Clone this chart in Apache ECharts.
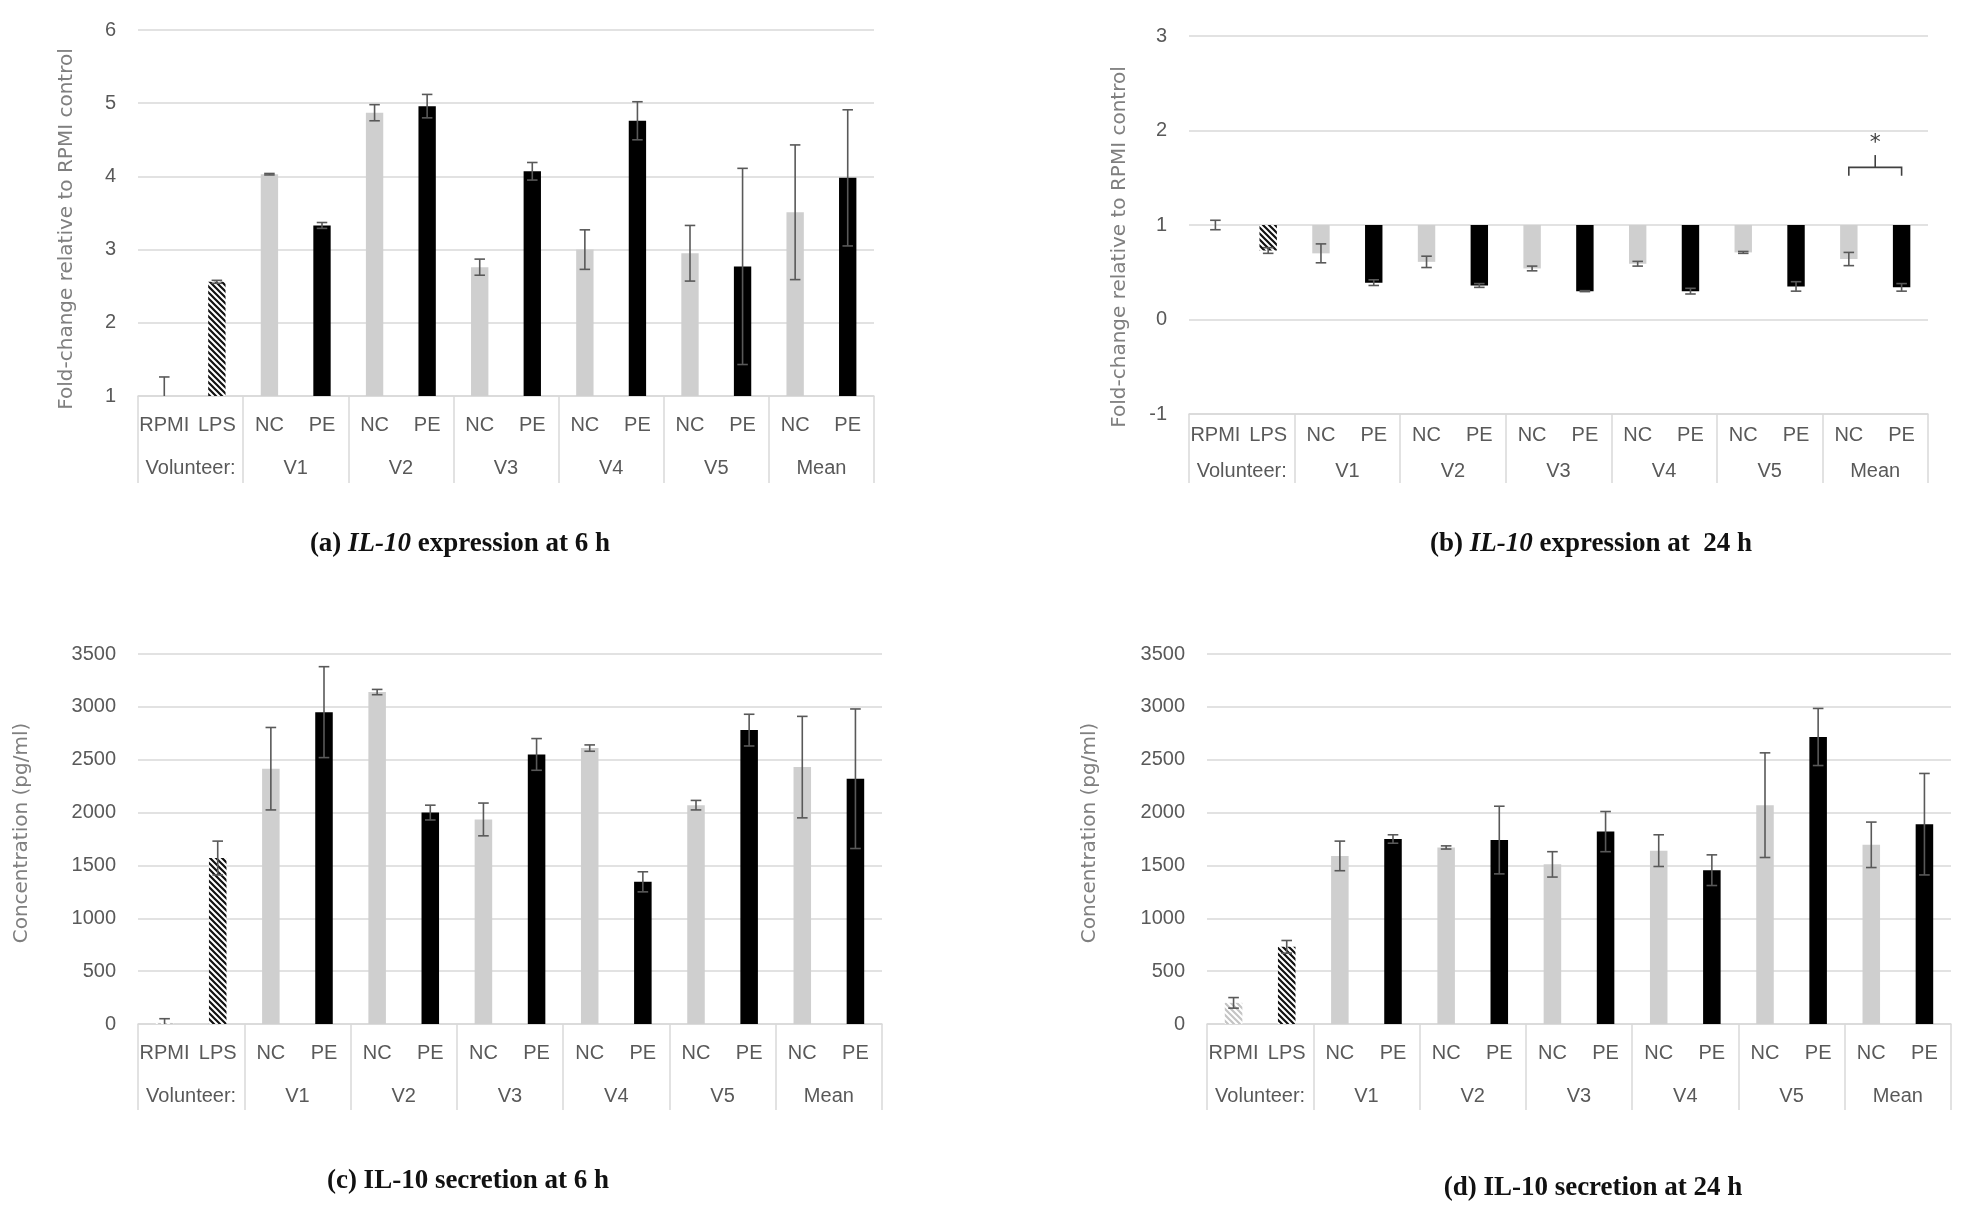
<!DOCTYPE html>
<html><head><meta charset="utf-8">
<script src="https://cdn.jsdelivr.net/npm/echarts/dist/echarts.min.js"></script>
<style>html,body{margin:0;padding:0;background:#fff}#c{width:1967px;height:1208px}</style>
</head><body><div id="c"></div>
<script>
// ---------- data ----------
const barLabels = ['RPMI','LPS','NC','PE','NC','PE','NC','PE','NC','PE','NC','PE','NC','PE'];
const groupLabels = ['Volunteer:','V1','V2','V3','V4','V5','Mean'];

// (a) IL-10 expression at 6 h (fold-change)
const expr6h   = [1.00, 2.56, 4.03, 3.33, 4.87, 4.96, 2.76, 4.07, 3.00, 4.76, 2.95, 2.77, 3.51, 3.98];
const expr6hSd = [0.26, 0.02, 0.01, 0.04, 0.11, 0.16, 0.11, 0.12, 0.27, 0.26, 0.38, 1.34, 0.92, 0.93];
// (b) IL-10 expression at 24 h (fold-change)
const expr24h   = [1.00, 0.73, 0.70, 0.39, 0.61, 0.36, 0.54, 0.30, 0.59, 0.30, 0.71, 0.35, 0.64, 0.34];
const expr24hSd = [0.05, 0.03, 0.10, 0.03, 0.06, 0.02, 0.025, 0.005, 0.025, 0.03, 0.01, 0.05, 0.07, 0.04];
// (c) IL-10 secretion at 6 h (pg/ml)
const sec6h   = [10, 1570, 2415, 2950, 3140, 2000, 1935, 2550, 2610, 1345, 2070, 2780, 2430, 2320];
const sec6hSd = [40, 160, 390, 430, 25, 70, 155, 150, 30, 95, 45, 150, 480, 660];
// (d) IL-10 secretion at 24 h (pg/ml)
const sec24h   = [200, 730, 1590, 1750, 1670, 1740, 1510, 1820, 1640, 1455, 2070, 2715, 1695, 1890];
const sec24hSd = [50, 60, 140, 40, 15, 320, 120, 190, 150, 145, 495, 270, 215, 480];

// significance bracket in (b): [fromIndex, toIndex, legBottom, barLevel, stemTop, starLevel]
const bracketB = [12, 13, 1.52, 1.61, 1.74, 1.87];

// ---------- styles ----------
function hatch(line) {
  const s = 6;
  const c = document.createElement('canvas'); c.width = s; c.height = s;
  const g = c.getContext('2d');
  g.fillStyle = '#ffffff'; g.fillRect(0, 0, s, s);
  g.strokeStyle = line; g.lineWidth = 2.2;
  g.beginPath();
  g.moveTo(-1, -1); g.lineTo(s + 1, s + 1);
  g.moveTo(-1, s - 1); g.lineTo(1, s + 1);
  g.moveTo(s - 1, -1); g.lineTo(s + 1, 1);
  g.stroke();
  return { image: c, repeat: 'repeat' };
}
const hatchDark = hatch('#111111');
const hatchLight = hatch('#c4c4c4');
function barColor(i) {
  if (i === 0) return hatchLight;
  if (i === 1) return hatchDark;
  return (i % 2 === 0) ? '#cfcfcf' : '#000000';
}

const tickFont = "'Liberation Sans Narrow', 'Liberation Sans', sans-serif";
const titleFont = "'DejaVu Sans', sans-serif";
const capFont = "'Liberation Serif', serif";
const txtCol = '#595959';
const gridCol = '#d9d9d9';

const grids = [
  { left: 138, top: 30, width: 736, height: 366 },
  { left: 1189, top: 36, width: 739, height: 378 },
  { left: 138, top: 654, width: 744, height: 370 },
  { left: 1207, top: 654, width: 744, height: 370 }
];
const axisCfg = [
  { m1: 19, m2: 62, tl: 87, min: 1, max: 6, interval: 1, name: 'Fold-change relative to RPMI control', gap: 61, pad: [0, 32, 0, 0] },
  { m1: 11, m2: 47, tl: 69, min: -1, max: 3, interval: 1, name: 'Fold-change relative to RPMI control', gap: 59, pad: [0, 44, 0, 0] },
  { m1: 19, m2: 62, tl: 86, min: 0, max: 3500, interval: 500, name: 'Concentration (pg/ml)', gap: 106, pad: [0, 0, 0, 12] },
  { m1: 19, m2: 62, tl: 86, min: 0, max: 3500, interval: 500, name: 'Concentration (pg/ml)', gap: 107, pad: [0, 0, 0, 12] }
];

const xAxes = [], yAxes = [];
axisCfg.forEach((a, k) => {
  xAxes.push({
    type: 'category', gridIndex: k, data: barLabels, position: 'bottom',
    axisLine: { show: true, onZero: false, lineStyle: { color: gridCol, width: 1.5 } },
    axisTick: { show: false },
    axisLabel: { interval: 0, margin: a.m1, color: txtCol, fontSize: 20, fontFamily: tickFont }
  });
  xAxes.push({
    type: 'category', gridIndex: k, data: groupLabels, position: 'bottom',
    axisLine: { show: false, onZero: false },
    axisTick: { show: true, interval: 0, length: a.tl, lineStyle: { color: gridCol, width: 1.5 } },
    axisLabel: { interval: 0, margin: a.m2, color: txtCol, fontSize: 20, fontFamily: tickFont }
  });
  yAxes.push({
    type: 'value', gridIndex: k, min: a.min, max: a.max, interval: a.interval,
    name: a.name, nameLocation: 'middle', nameRotate: 90, nameGap: a.gap,
    nameTextStyle: { color: '#7f7f7f', fontSize: 20, fontFamily: titleFont, padding: a.pad },
    axisLine: { show: false }, axisTick: { show: false },
    axisLabel: { color: txtCol, fontSize: 20, fontFamily: tickFont, margin: 22, formatter: v => String(v) },
    splitLine: { lineStyle: { color: gridCol, width: 1.5 } }
  });
});

function errRender(params, api) {
  const i = api.value(0), v = api.value(1), e = api.value(2);
  const cs = params.coordSys;
  const p1 = api.coord([i, v + e]);
  const p2 = api.coord([i, v - e]);
  const x = p1[0];
  const yBottom = cs.y + cs.height;
  const y1 = p1[1];
  let y2 = p2[1];
  const clamped = y2 > yBottom;
  if (clamped) y2 = yBottom;
  const hw = api.size([1, 0])[0] * 0.1;
  const st = { stroke: '#595959', lineWidth: 1.6 };
  const ch = [
    { type: 'line', shape: { x1: x, y1: y1, x2: x, y2: y2 }, style: st },
    { type: 'line', shape: { x1: x - hw, y1: y1, x2: x + hw, y2: y1 }, style: st }
  ];
  if (!clamped) ch.push({ type: 'line', shape: { x1: x - hw, y1: y2, x2: x + hw, y2: y2 }, style: st });
  return { type: 'group', children: ch };
}

function coloredData(vals) {
  return vals.map((v, i) => ({ value: v, itemStyle: { color: barColor(i) } }));
}

const series = [];
const panels = [
  { vals: expr6h, sd: expr6hSd, hang: false },
  { vals: expr24h, sd: expr24hSd, hang: true },
  { vals: sec6h, sd: sec6hSd, hang: false },
  { vals: sec24h, sd: sec24hSd, hang: false }
];
panels.forEach((p, k) => {
  const xi = k * 2, yi = k;
  if (p.hang) {
    // bars hang from the crossing value 1 down to each value
    series.push({
      type: 'bar', xAxisIndex: xi, yAxisIndex: yi, stack: 'h' + k, barWidth: '33%',
      data: p.vals.map(v => v), itemStyle: { color: 'rgba(0,0,0,0)' }, silent: true
    });
    series.push({
      type: 'bar', xAxisIndex: xi, yAxisIndex: yi, stack: 'h' + k, barWidth: '33%',
      data: p.vals.map((v, i) => ({ value: 1 - v, itemStyle: { color: barColor(i) } }))
    });
  } else {
    series.push({
      type: 'bar', xAxisIndex: xi, yAxisIndex: yi, barWidth: '33%', clip: true,
      data: coloredData(p.vals)
    });
  }
  series.push({
    type: 'custom', xAxisIndex: xi, yAxisIndex: yi, renderItem: errRender, z: 5,
    data: p.vals.map((v, i) => [i, v, p.sd[i]])
  });
});

// significance bracket on (b)
series.push({
  type: 'custom', xAxisIndex: 2, yAxisIndex: 1, z: 6,
  data: [bracketB],
  renderItem: function (params, api) {
    const a = api.value(0), b = api.value(1);
    const legB = api.value(2), lvl = api.value(3), stem = api.value(4), star = api.value(5);
    const pa = api.coord([a, lvl]), pb = api.coord([b, lvl]);
    const la = api.coord([a, legB]);
    const mid = (pa[0] + pb[0]) / 2;
    const ps = api.coord([a, stem]), pst = api.coord([a, star]);
    const st = { stroke: '#404040', lineWidth: 1.6, fill: null };
    return { type: 'group', children: [
      { type: 'polyline', shape: { points: [[pa[0], la[1]], [pa[0], pa[1]], [pb[0], pb[1]], [pb[0], la[1]]] }, style: st },
      { type: 'line', shape: { x1: mid, y1: pa[1], x2: mid, y2: ps[1] }, style: st },
      { type: 'text', style: { text: '*', x: mid, y: pst[1], align: 'center', verticalAlign: 'middle', fontSize: 22, fill: '#404040', fontFamily: titleFont } }
    ] };
  }
});

const capStyle = {
  fontFamily: capFont, fontWeight: 'bold', fontSize: 27, color: '#111',
  rich: { i: { fontFamily: capFont, fontWeight: 'bold', fontStyle: 'italic', fontSize: 27, color: '#111' } }
};
const titles = [
  { text: '(a) {i|IL-10} expression at 6 h', left: 460, top: 531 },
  { text: '(b) {i|IL-10} expression at  24 h', left: 1591, top: 531 },
  { text: '(c) IL-10 secretion at 6 h', left: 468, top: 1168 },
  { text: '(d) IL-10 secretion at 24 h', left: 1593, top: 1175 }
].map(t => Object.assign({ textAlign: 'center', padding: 0, textStyle: capStyle }, t));

const chart = echarts.init(document.getElementById('c'), null, { renderer: 'canvas' });
chart.setOption({
  backgroundColor: '#ffffff',
  animation: false,
  title: titles,
  grid: grids,
  xAxis: xAxes,
  yAxis: yAxes,
  series: series
});
</script></body></html>
